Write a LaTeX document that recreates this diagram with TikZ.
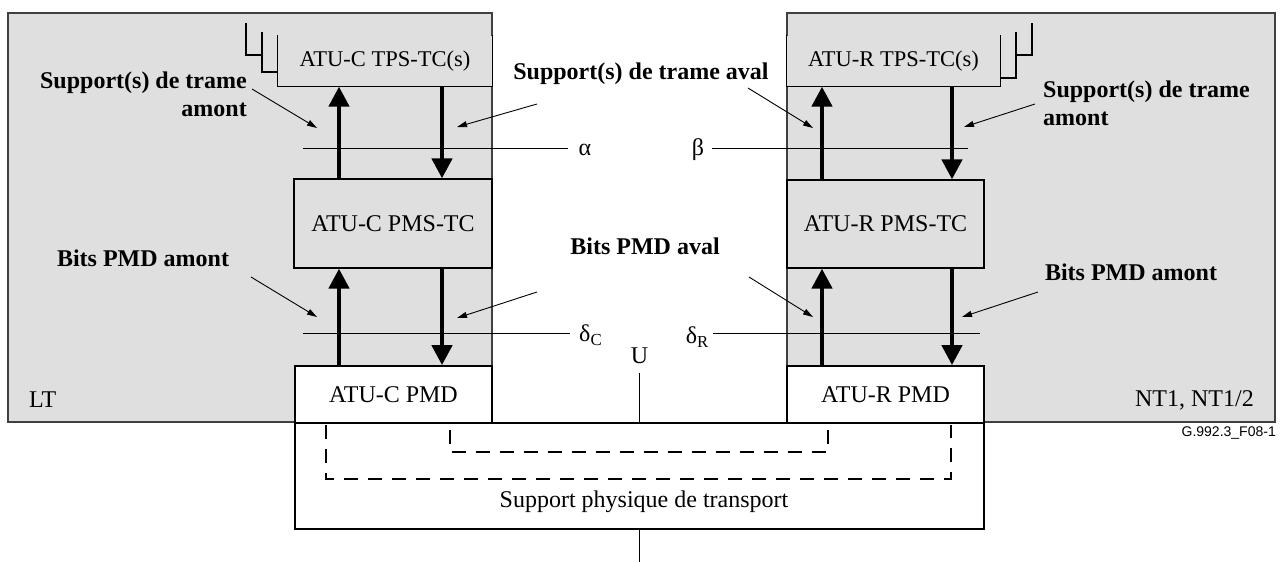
\documentclass[tikz,border=0pt]{standalone}
\usepackage{fontspec}
\setmainfont{Liberation Serif}
\newfontfamily\figsans{Liberation Sans}
\usetikzlibrary{arrows.meta}

\definecolor{panel}{gray}{0.875}
\definecolor{panelline}{gray}{0.25}

\begin{document}
\begin{tikzpicture}[x=1pt,y=-1pt,
  panelbox/.style={draw=panelline, line width=1.5pt, fill=panel},
  funcbox/.style={draw=black, line width=1.3pt, fill=panel, inner sep=0pt,
    font=\fontsize{24}{28}\selectfont},
  pmdbox/.style={draw=black, line width=1.8pt, fill=white, inner sep=0pt,
    font=\fontsize{24}{28}\selectfont},
  plain/.style={inner sep=0pt, font=\fontsize{24}{28}\selectfont},
  boldlbl/.style={inner sep=0pt, font=\bfseries\fontsize{24}{28}\selectfont},
  flow/.style={line width=4.5pt, -{Triangle[width=20pt,length=20pt]}},
  pointer/.style={line width=0.9pt, -{Triangle[width=6pt,length=10pt]}},
  refline/.style={line width=0.9pt},
  dashline/.style={line width=1.2pt, dash pattern=on 14pt off 10pt},
  thinline/.style={line width=1.1pt}
]
\useasboundingbox (0,0) rectangle (1283,562);

% --- the two equipment panels
\node[panelbox, minimum width=484pt, minimum height=409pt, inner sep=0pt] (lt) at (250,217.5) {};
\node[panelbox, minimum width=488pt, minimum height=409pt, inner sep=0pt] (nt) at (1031,217.5) {};

% --- TPS-TC blocks (stacked outlines, no top edge)
\node[funcbox, draw=none, minimum width=214pt, minimum height=50pt,
      font=\fontsize{22.5}{27}\selectfont] (tpsC) at (385,61) {ATU-C TPS-TC(s)};
\draw[thinline] (tpsC.north west) -- (tpsC.south west) -- (tpsC.south east) -- (tpsC.north east);
\draw[thinline] (262,32) -- (262,72) -- (tpsC.west |- 0,72);
\draw[thinline] (246,23) -- (246,55) -- (262,55);

\node[funcbox, draw=none, minimum width=213pt, minimum height=50pt,
      font=\fontsize{22.5}{27}\selectfont] (tpsR) at (893.5,61) {ATU-R TPS-TC(s)};
\draw[thinline] (tpsR.north west) -- (tpsR.south west) -- (tpsR.south east) -- (tpsR.north east);
\draw[thinline] (1016,32) -- (1016,78) -- (tpsR.east |- 0,78);
\draw[thinline] (1032,23) -- (1032,55) -- (1016,55);

% --- PMS-TC blocks
\node[funcbox, minimum width=198pt, minimum height=89pt] (pmsC) at (393,223.5) {ATU-C PMS-TC};
\node[funcbox, minimum width=197pt, minimum height=88pt] (pmsR) at (885.5,224) {ATU-R PMS-TC};

% --- PMD blocks
\node[pmdbox, minimum width=197pt, minimum height=57pt] (pmdC) at (393.5,394.5) {ATU-C PMD};
\node[pmdbox, minimum width=197pt, minimum height=57pt] (pmdR) at (885.5,394.5) {ATU-R PMD};

% --- transmission medium
\node[pmdbox, line width=2pt, minimum width=689pt, minimum height=106pt] (medium) at (639.5,476) {};
\node[plain] (mediumtxt) at (644,502) {Support physique de transport};
\draw[dashline] (326,425) -- (326,479) -- (951,479) -- (951,425);
\draw[dashline] (450,430) -- (450,452) -- (828,452) -- (828,423);

% --- U reference point
\node[plain] (U) at (639.5,356) {U};
\draw[refline] (639.5,373) -- (medium.north);
\draw[refline] (medium.south) -- (639.5,562);

% --- data flows
\coordinate (upC) at (339,0);   \coordinate (dnC) at (442,0);
\coordinate (upR) at (822,0);   \coordinate (dnR) at (952,0);
\draw[flow] (pmsC.north -| upC) -- (tpsC.south -| upC);
\draw[flow] (tpsC.south -| dnC) -- (pmsC.north -| dnC);
\draw[flow] (pmdC.north -| upC) -- (pmsC.south -| upC);
\draw[flow] (pmsC.south -| dnC) -- (pmdC.north -| dnC);
\draw[flow] (pmsR.north -| upR) -- (tpsR.south -| upR);
\draw[flow] (tpsR.south -| dnR) -- (pmsR.north -| dnR);
\draw[flow] (pmdR.north -| upR) -- (pmsR.south -| upR);
\draw[flow] (pmsR.south -| dnR) -- (pmdR.north -| dnR);

% --- reference points alpha, beta, delta
\node[plain] (alpha) at (585,150) {α};
\node[plain] (beta) at (698,150) {β};
\draw[refline] (303,148) -- (568,148);
\draw[refline] (712,148) -- (968,148);
\node[plain, anchor=west] (deltaC) at (579,335) {δ\textsubscript{C}};
\node[plain, anchor=east] (deltaR) at (709,337) {δ\textsubscript{R}};
\draw[refline] (303,333) -- (570,333);
\draw[refline] (713,333) -- (980,333);

% --- bearer labels
\node[boldlbl, anchor=east, align=right] (supC) at (247,94) {Support(s) de trame\\amont};
\node[boldlbl] (supAval) at (641,74) {Support(s) de trame aval};
\node[boldlbl, anchor=west, align=left] (supR) at (1043,103) {Support(s) de trame\\amont};
\node[boldlbl] (bitsC) at (143,258) {Bits PMD amont};
\node[boldlbl] (bitsAval) at (645,246) {Bits PMD aval};
\node[boldlbl] (bitsR) at (1131,272) {Bits PMD amont};

\draw[pointer] (252,89) -- (317,128);
\draw[pointer] (537,104) -- (457,127);
\draw[pointer] (748,88) -- (813,128);
\draw[pointer] (1035,104) -- (964,127);
\draw[pointer] (251,277) -- (317,317);
\draw[pointer] (537,292) -- (457,318);
\draw[pointer] (749,277) -- (813,317);
\draw[pointer] (1038,292) -- (962,317);

% --- equipment names and figure tag
\node[plain, anchor=west] (ltname) at (29,400) {LT};
\node[plain, anchor=east] (ntname) at (1254,400) {NT1, NT1/2};
\node[inner sep=0pt, anchor=east, font=\figsans\fontsize{14}{16}\selectfont] (tag) at (1276,433) {G.992.3\_F08-1};
\end{tikzpicture}
\end{document}
